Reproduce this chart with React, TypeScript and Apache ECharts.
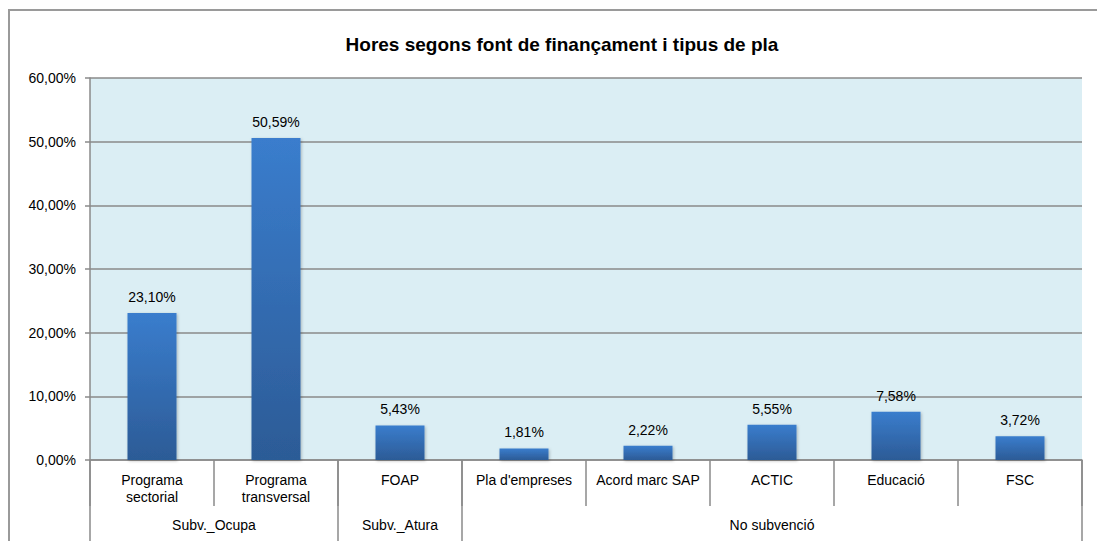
import React, { useEffect, useRef } from "react";
import * as echarts from "echarts";

const categories = [
  "Programa\nsectorial",
  "Programa\ntransversal",
  "FOAP",
  "Pla d'empreses",
  "Acord marc SAP",
  "ACTIC",
  "Educació",
  "FSC",
];
const values = [23.1, 50.59, 5.43, 1.81, 2.22, 5.55, 7.58, 3.72];
const groups = ["Subv._Ocupa", "Subv._Atura", "No subvenció"];
const groupSizes = [2, 1, 5];
const yTicks = [0, 10, 20, 30, 40, 50, 60];

const fmt = (v: number) => v.toFixed(2).replace(".", ",") + "%";

export default function App() {
  const ref = useRef<HTMLDivElement>(null);
  useEffect(() => {
    if (!ref.current) return;
    const chart = echarts.init(ref.current, null, { renderer: "svg" });

    // build half-slot group axis (boundaryGap false, 2 points per category)
    const n = categories.length * 2 + 1;
    const groupAxisData: string[] = new Array(n).fill("");
    const boundaries = new Set<number>([0]);
    let start = 0;
    groups.forEach((g, i) => {
      const end = start + groupSizes[i] * 2;
      groupAxisData[(start + end) / 2] = g;
      boundaries.add(end);
      start = end;
    });
    const groupAxisValues = groupAxisData.map((g, i) => (g ? g : " ".repeat(i + 1)));

    const font = "Arial, 'Liberation Sans', sans-serif";
    const gridColor = "#8a8a8a";

    chart.setOption({
      animation: false,
      backgroundColor: "#ffffff",
      title: {
        text: "Hores segons font de finançament i tipus de pla",
        left: 557,
        top: 30,
        textAlign: "center",
        textStyle: {
          fontFamily: font,
          fontWeight: "bold",
          fontSize: 19,
          color: "#000",
        },
      },
      graphic: [
        {
          type: "rect",
          shape: { x: 9, y: 10, width: 1200, height: 700 },
          style: { fill: "none", stroke: "#9a9a9a", lineWidth: 2 },
          silent: true,
        },
      ],
      grid: {
        left: 90,
        top: 78,
        width: 992,
        height: 382,
        show: true,
        backgroundColor: "#DBEEF4",
        borderWidth: 0,
      },
      xAxis: [
        {
          type: "category",
          data: categories,
          position: "bottom",
          axisLine: { show: true, lineStyle: { color: gridColor, width: 1.5 } },
          axisTick: {
            show: true,
            alignWithLabel: false,
            interval: 0,
            length: 46,
            lineStyle: { color: gridColor, width: 1.5 },
          },
          axisLabel: {
            interval: 0,
            margin: 11,
            fontFamily: font,
            fontSize: 14,
            lineHeight: 17,
            color: "#000",
          },
          splitLine: { show: false },
        },
        {
          type: "category",
          data: groupAxisValues,
          boundaryGap: false,
          position: "bottom",
          offset: 0,
          axisLine: { show: false },
          axisTick: {
            show: true,
            interval: (index: number) => boundaries.has(index),
            length: 82,
            lineStyle: { color: gridColor, width: 1.5 },
          },
          axisLabel: {
            interval: 0,
            margin: 58,
            fontFamily: font,
            fontSize: 14,
            color: "#000",
            formatter: (v: string) => v.trim(),
          },
          splitLine: { show: false },
        },
      ],
      yAxis: {
        type: "value",
        min: yTicks[0],
        max: yTicks[yTicks.length - 1],
        interval: 10,
        axisLine: { show: true, lineStyle: { color: gridColor, width: 1.5 } },
        axisTick: { show: true, length: 5, lineStyle: { color: gridColor, width: 1.5 } },
        axisLabel: {
          margin: 14,
          fontFamily: font,
          fontSize: 14,
          color: "#000",
          formatter: (v: number) => fmt(v),
        },
        splitLine: { show: true, lineStyle: { color: gridColor, width: 1.5 } },
      },
      series: [
        {
          type: "bar",
          xAxisIndex: 0,
          data: values,
          barWidth: 49,
          itemStyle: {
            color: new echarts.graphic.LinearGradient(0, 0, 0, 1, [
              { offset: 0, color: "#3A7DCD" },
              { offset: 1, color: "#2C5B96" },
            ]),
            shadowColor: "rgba(0,0,0,0.25)",
            shadowBlur: 3,
            shadowOffsetX: 1,
            shadowOffsetY: 1,
          },
          label: {
            show: true,
            position: "top",
            distance: 9,
            fontFamily: font,
            fontSize: 14,
            color: "#000",
            formatter: (p: any) => fmt(p.value),
          },
        },
      ],
    });
    return () => chart.dispose();
  }, []);
  return (
    <div
      ref={ref}
      style={{ position: "fixed", left: 0, top: 0, width: 1097, height: 541 }}
    />
  );
}
